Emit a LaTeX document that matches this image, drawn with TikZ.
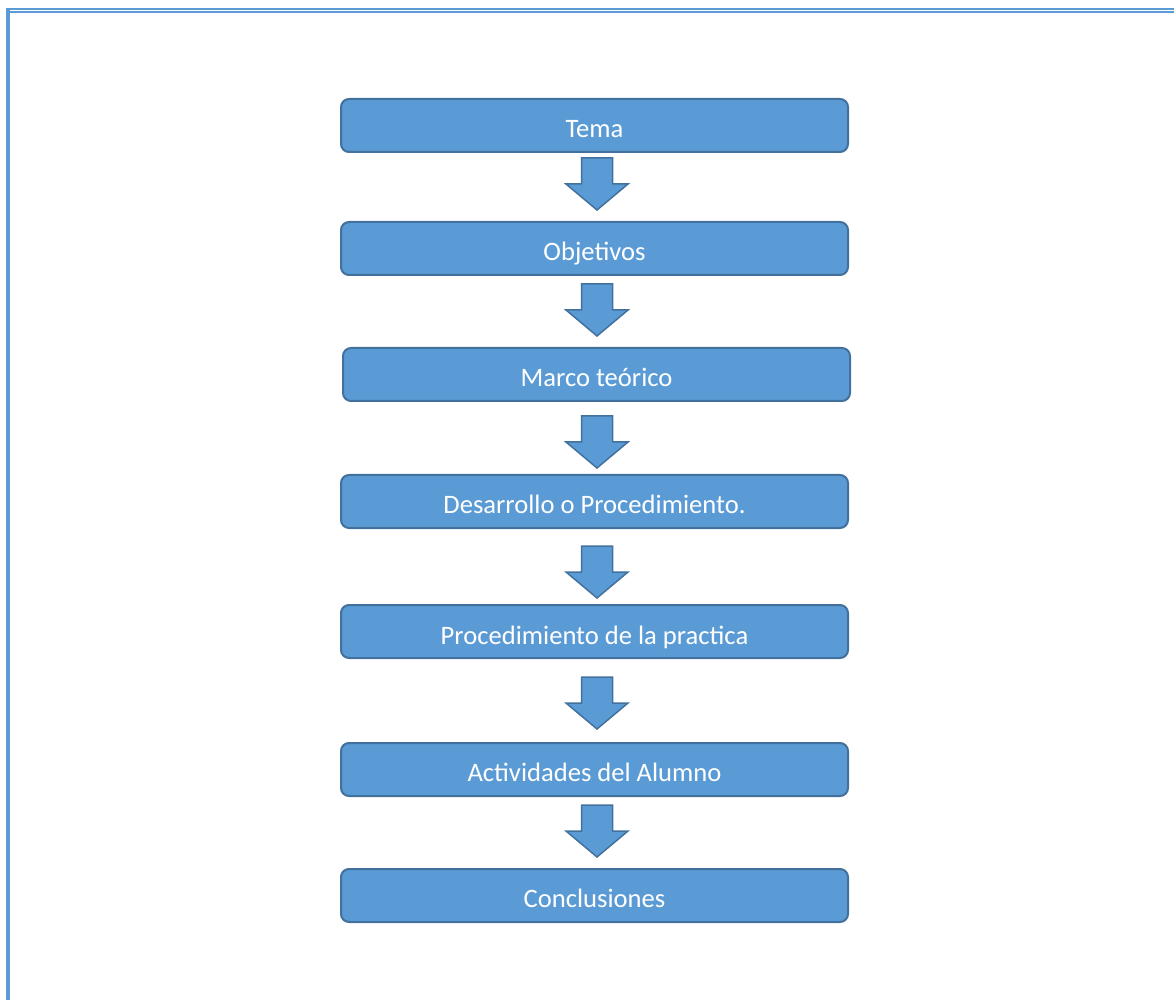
\documentclass[tikz,border=0pt]{standalone}
\usepackage{fontspec}
\setmainfont{Carlito}
\usepackage{tikz}
\definecolor{azul}{HTML}{5B9BD5}
\definecolor{azulborde}{HTML}{41719C}
\tikzset{
    caja/.style={
           rectangle,
           rounded corners=4pt,
           draw=azulborde, line width=1pt,
           fill=azul,
           text=white,
           font=\fontsize{13.3}{15}\selectfont,
           minimum width=253.5pt,
           minimum height=26.5pt,
           text height=12pt, text depth=0pt,
           inner sep=0pt},
    flecha/.pic={
      \draw[draw=azulborde, line width=0.75pt, fill=azul, line join=miter]
        (-15.5,0) -- (15.5,0) -- (15.5,26) -- (31,26) -- (0,52)
        -- (-31,26) -- (-15.5,26) -- cycle;}
    }

\begin{document}
\begin{tikzpicture}[x=0.5pt,y=-0.5pt]
      \useasboundingbox (0,0) rectangle (1174,1000);
      % marco de la pagina
      \fill[azul] (6,8) rectangle (10,1000);
      \fill[azul] (6,8) rectangle (1174,9.8);
      \fill[azul] (10,11) rectangle (1174,12.8);

      \node[caja] (0) at (594.5,125.5) {Tema};
      \node[caja] (1) at (594.5,248.5) {Objetivos};
      \node[caja] (2) at (596.5,374.5) {Marco teórico};
      \node[caja] (3) at (594.5,501.5) {Desarrollo o Procedimiento.};
      \node[caja, text height=13pt] (4) at (594.5,631.5) {Procedimiento de la practica};
      \node[caja] (5) at (594.5,769.5) {Actividades del Alumno};
      \node[caja] (6) at (594.5,895.5) {Conclusiones};

      \pic at (597,158) {flecha};
      \pic at (597,284) {flecha};
      \pic at (597,416) {flecha};
      \pic at (597,546) {flecha};
      \pic at (597,677) {flecha};
      \pic at (597,805) {flecha};
\end{tikzpicture}
\end{document}
